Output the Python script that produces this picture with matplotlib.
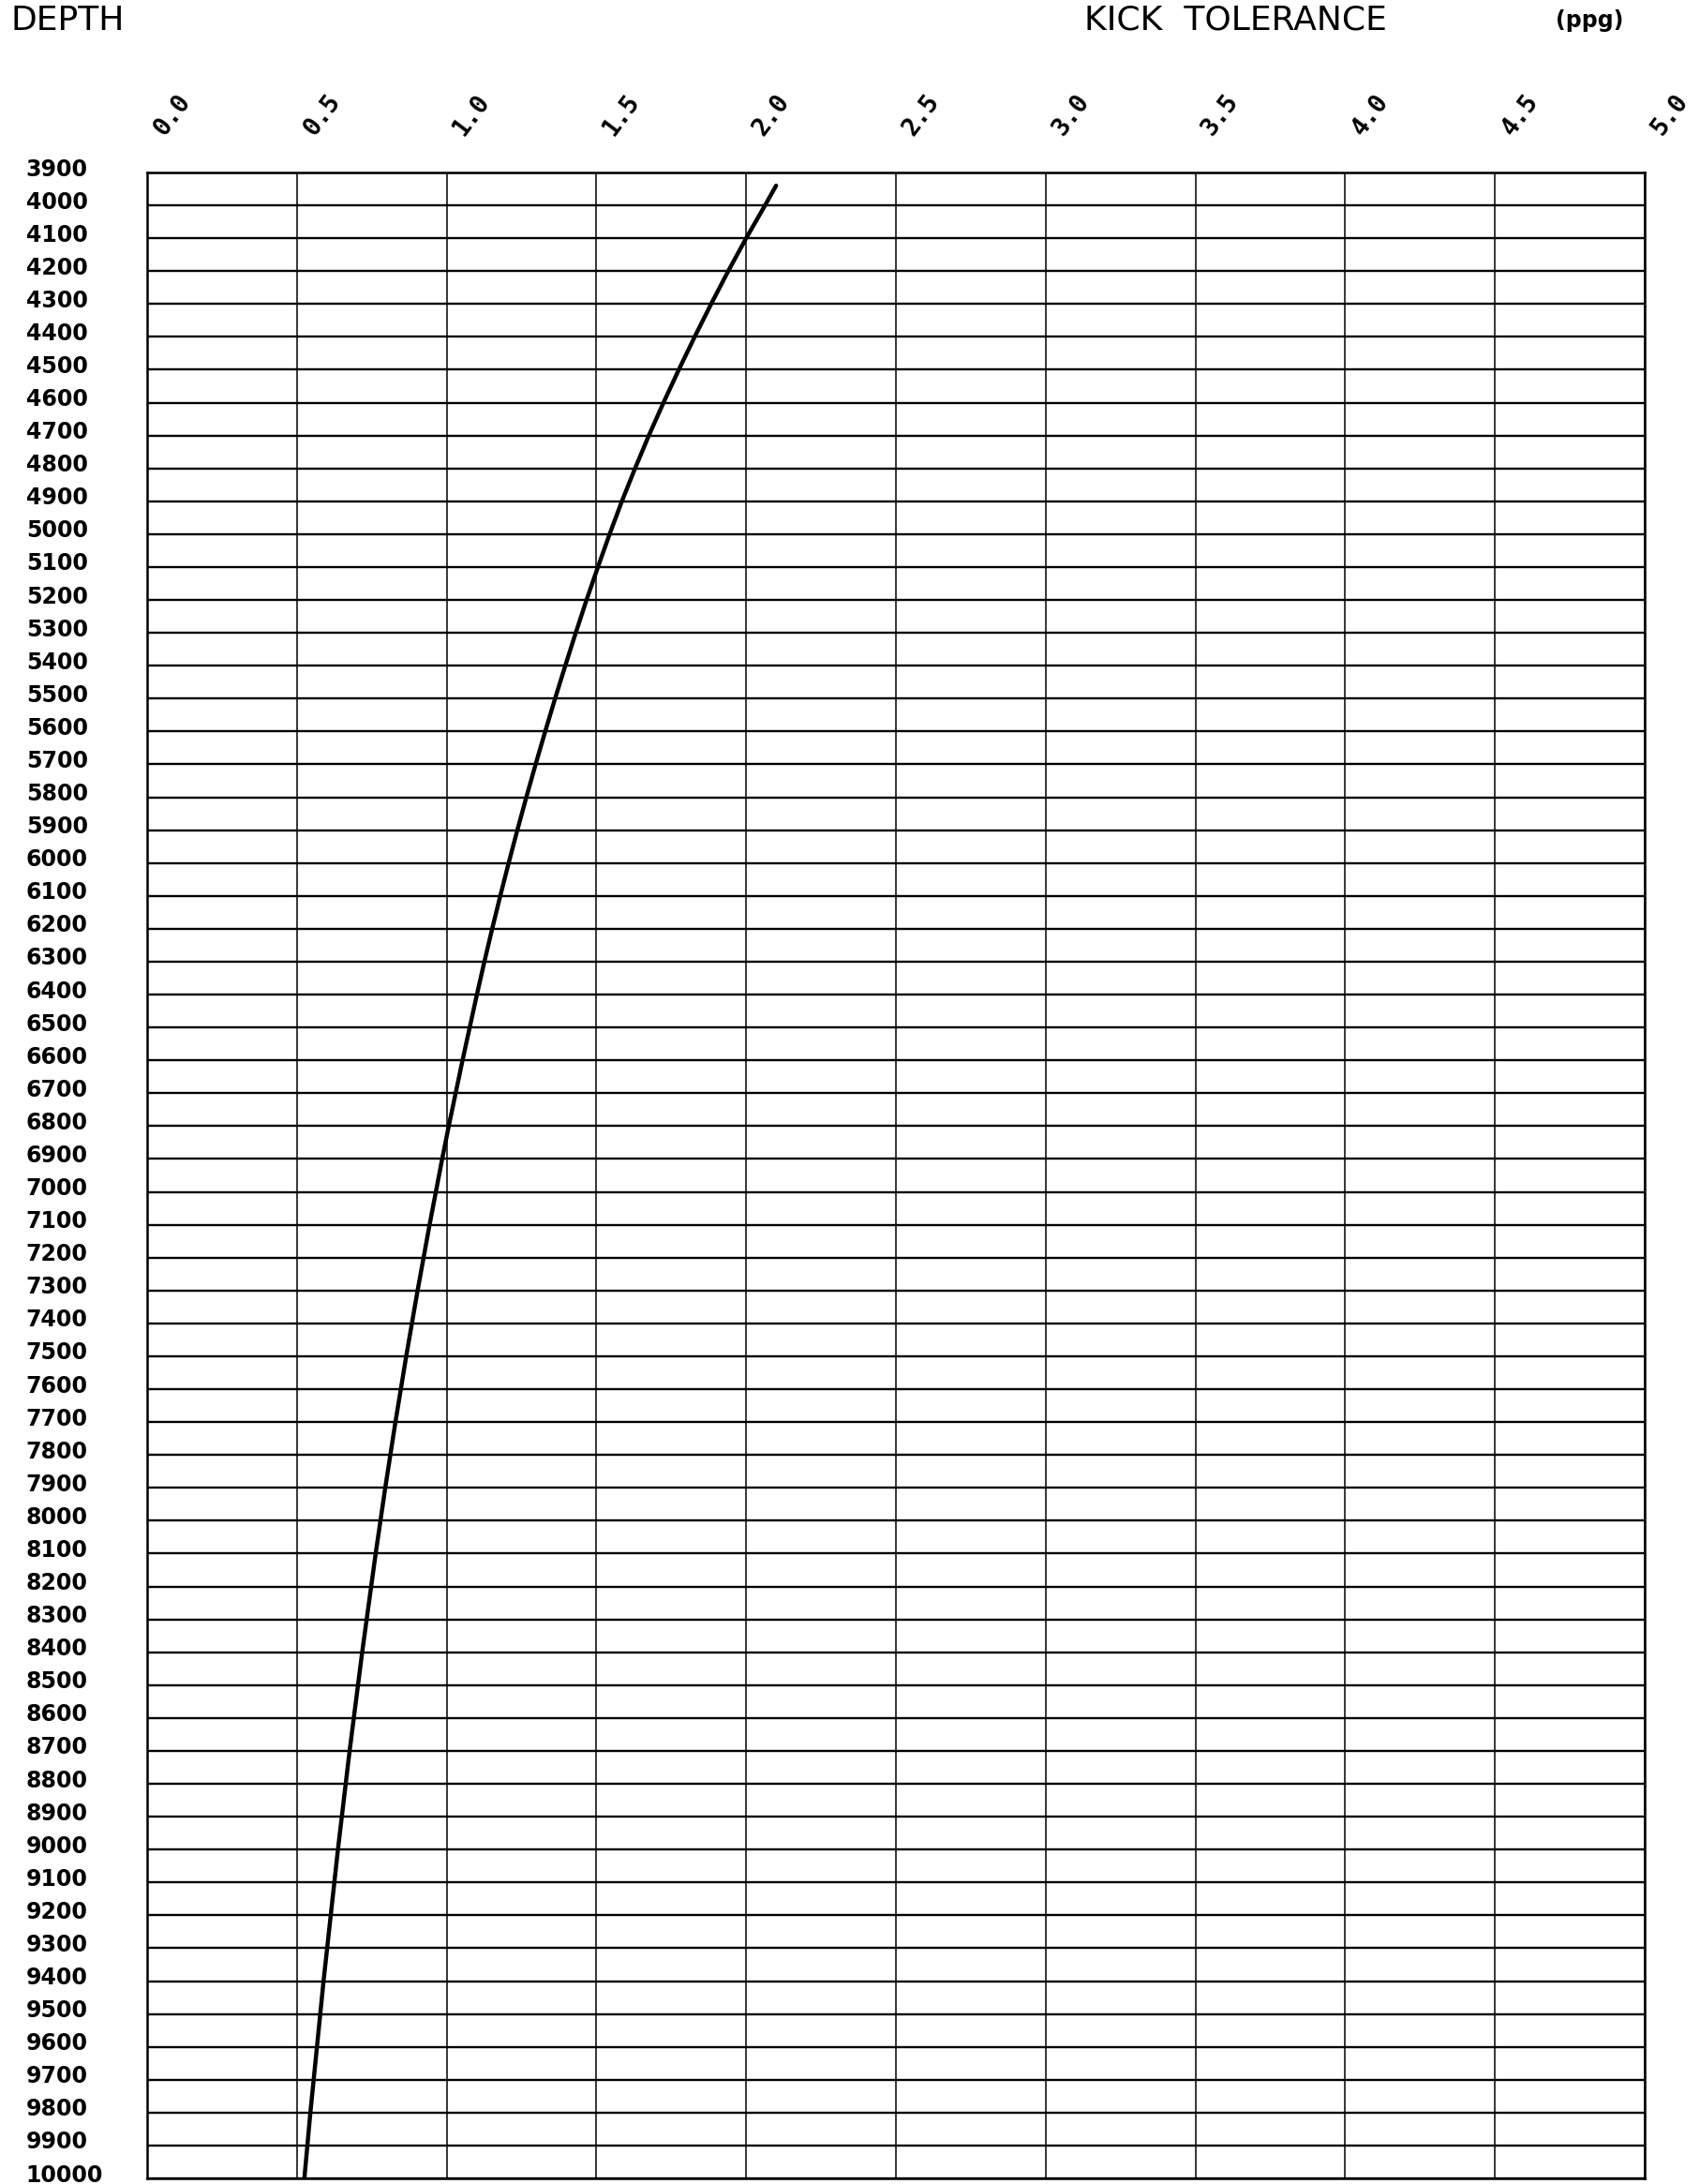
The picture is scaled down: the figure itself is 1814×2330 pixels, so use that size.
import matplotlib
matplotlib.use("Agg")
import matplotlib.pyplot as plt
from matplotlib.transforms import ScaledTranslation
import numpy as np

# kick tolerance curve (depth in ft, tolerance in ppg)
depth = [3940, 4000, 4100, 4200, 4300, 4400, 4500, 4600, 4700, 4800, 4900,
         5000, 5100, 5200, 5300, 5400, 5500, 5600, 5700, 5800, 5900,
         6000, 6100, 6200, 6300, 6400, 6500, 6600, 6700, 6800, 6900,
         7000, 7100, 7200, 7300, 7400, 7500, 7600, 7700, 7800, 7900,
         8000, 8100, 8200, 8300, 8400, 8500, 8600, 8700, 8800, 8900,
         9000, 9100, 9200, 9300, 9400, 9500, 9600, 9700, 9800, 9900, 10000]
kick_tol = [2.100, 2.063, 2.000, 1.940, 1.883, 1.828, 1.775, 1.724, 1.675, 1.629, 1.585,
            1.544, 1.505, 1.467, 1.431, 1.396, 1.362, 1.329, 1.297, 1.266, 1.236,
            1.207, 1.179, 1.152, 1.126, 1.101, 1.077, 1.053, 1.030, 1.007, 0.985,
            0.964, 0.943, 0.923, 0.903, 0.884, 0.865, 0.847, 0.829, 0.812, 0.795,
            0.779, 0.763, 0.748, 0.733, 0.718, 0.704, 0.690, 0.676, 0.663, 0.650,
            0.637, 0.625, 0.613, 0.601, 0.589, 0.578, 0.567, 0.556, 0.545, 0.535, 0.525]

depth_ticks = list(range(3900, 10001, 100))
depth_labels = [str(d) for d in depth_ticks]
kt_ticks = [0.0, 0.5, 1.0, 1.5, 2.0, 2.5, 3.0, 3.5, 4.0, 4.5, 5.0]
kt_labels = ["0.0", "0.5", "1.0", "1.5", "2.0", "2.5", "3.0", "3.5", "4.0", "4.5", "5.0"]

plt.rcParams["font.family"] = ["DejaVu Sans"]

W, H = 1815, 2330
fig = plt.figure(figsize=(W / 100, H / 100), dpi=100)
ax = fig.add_axes([157 / W, 6 / H, 1598 / W, 2140 / H])

ax.plot(kick_tol, depth, color="black", lw=3.2, solid_capstyle="round",
        solid_joinstyle="round", zorder=3)

ax.set_xlim(0, 5)
ax.set_ylim(10000, 3900)

# horizontal grid (depth) is drawn heavier than the vertical one
for d in depth_ticks:
    ax.axhline(d, color="black", lw=1.7, zorder=1)
for k in kt_ticks:
    ax.axvline(k, color="black", lw=1.1, zorder=1)

for s in ax.spines.values():
    s.set_linewidth(1.8)

# depth labels on the left
ax.set_yticks(depth_ticks)
ax.set_yticklabels(depth_labels, fontsize=17, fontweight="bold", ha="left")
ax.tick_params(axis="y", length=0, pad=93)
for lbl in ax.get_yticklabels():
    lbl.set_transform(lbl.get_transform() + ScaledTranslation(0, 0.06, fig.dpi_scale_trans))

# tolerance labels on top, slanted
ax.xaxis.set_ticks_position("top")
ax.set_xticks(kt_ticks)
ax.set_xticklabels(kt_labels, fontsize=19, family="DejaVu Sans Mono", fontweight="bold",
                   rotation=53, ha="left", va="bottom", rotation_mode="anchor")
ax.tick_params(axis="x", length=0, pad=25)
for lbl in ax.get_xticklabels():
    lbl.set_transform(lbl.get_transform() + ScaledTranslation(0.23, 0, fig.dpi_scale_trans))

fig.text(12 / W, 1 - 32 / H, "DEPTH", fontsize=26, ha="left", va="baseline")
fig.text(1157 / W, 1 - 32 / H, "KICK  TOLERANCE", fontsize=26, ha="left", va="baseline")
fig.text(1660 / W, 1 - 29 / H, "(ppg)", fontsize=17, fontweight="bold", ha="left",
         va="baseline")

fig.savefig("out.png", dpi=100)
